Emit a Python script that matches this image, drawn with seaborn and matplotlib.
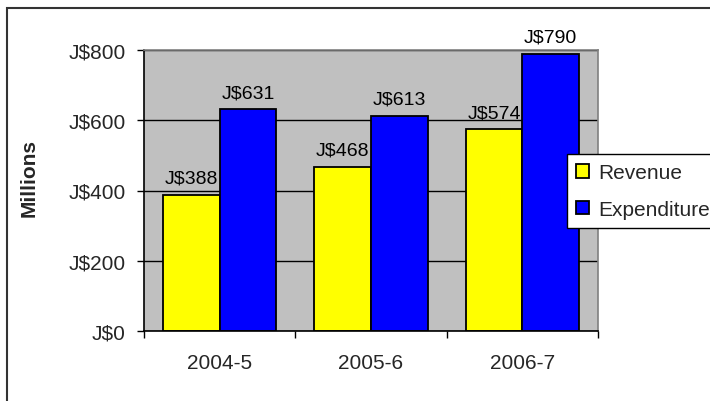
import matplotlib
matplotlib.use("Agg")
import matplotlib.pyplot as plt
import matplotlib.patches as mpatches
from matplotlib.ticker import FuncFormatter, FixedLocator
import seaborn as sns
import pandas as pd

years = ["2004-5", "2005-6", "2006-7"]
revenue = [388, 468, 574]
expenditure = [631, 613, 790]
series_names = ["Revenue", "Expenditure"]
colors = ["#FFFF00", "#0000FF"]
y_ticks = [0, 200, 400, 600, 800]

sns.set_style("white")
plt.rcParams["font.family"] = ["Liberation Sans", "DejaVu Sans"]

df = pd.DataFrame({
    "year": years * 2,
    "value": revenue + expenditure,
    "series": [series_names[0]] * 3 + [series_names[1]] * 3,
})

fig = plt.figure(figsize=(7.1, 4.02), dpi=100)
ax = fig.add_axes([144/710, 70/402, 454/710, 281/402])
ax.set_facecolor("#C0C0C0")

sns.barplot(data=df, x="year", y="value", hue="series", palette=colors,
            saturation=1, edgecolor="black", linewidth=1.3, width=0.75,
            ax=ax, legend=False)

for cont, vals in zip(ax.containers, [revenue, expenditure]):
    ax.bar_label(cont, labels=[f"J${v}" for v in vals], padding=6,
                 fontsize=14, color="black")

ax.set_ylim(0, 800)
ax.set_xlim(-0.5, 2.5)
ax.set_yticks(y_ticks)
ax.yaxis.set_major_formatter(FuncFormatter(lambda v, p: f"J${int(v)}"))
ax.grid(axis="y", color="black", linewidth=1)
ax.set_axisbelow(True)

ax.tick_params(axis="y", which="major", direction="out", length=5, width=1,
               color="black", labelsize=15, pad=8, left=True)
ax.tick_params(axis="x", which="major", length=0, labelsize=15, pad=16)
ax.xaxis.set_minor_locator(FixedLocator([-0.5, 0.5, 1.5, 2.5]))
ax.tick_params(axis="x", which="minor", direction="out", length=5, width=1,
               color="black", bottom=True)

for s in ["left", "bottom"]:
    ax.spines[s].set_color("black")
    ax.spines[s].set_linewidth(1.2)
for s in ["top", "right"]:
    ax.spines[s].set_color("#808080")
    ax.spines[s].set_linewidth(1.2)
    ax.spines[s].set_visible(True)

ax.set_xlabel("")
ax.set_ylabel("Millions", fontsize=15, fontweight="bold")
ax.yaxis.set_label_coords((38.5-144)/454, (332-178)/281)

handles = [mpatches.Patch(facecolor=c, edgecolor="black", linewidth=1.3) for c in colors]
leg = ax.legend(handles, series_names, loc="upper left",
                bbox_to_anchor=(567/710, (402-155)/402), bbox_transform=fig.transFigure,
                frameon=True, fancybox=False, edgecolor="black", framealpha=1,
                fontsize=15, handlelength=0.6, handleheight=0.6, handletextpad=0.45,
                labelspacing=0.85, borderpad=0.45, borderaxespad=0)
leg.get_frame().set_linewidth(1.0)

frame = mpatches.Rectangle((7/710, -0.2), 1.2, (402-9)/402 + 0.2,
                           transform=fig.transFigure, fill=False,
                           edgecolor="#333333", linewidth=1.5)
fig.patches.append(frame)

fig.savefig("out.png", dpi=100)
